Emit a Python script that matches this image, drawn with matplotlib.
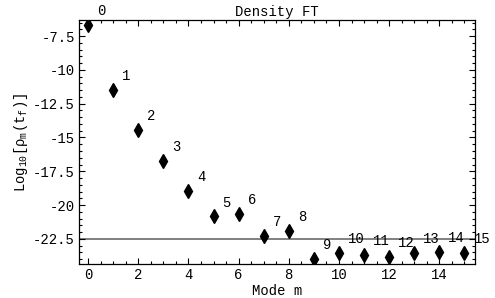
import matplotlib
matplotlib.use("Agg")
import matplotlib.pyplot as plt
from matplotlib.ticker import MultipleLocator, FuncFormatter

modes = list(range(16))
log_rho = [-6.68, -11.49, -14.43, -16.76, -18.93, -20.84, -20.66, -22.27,
           -21.90, -24.00, -23.54, -23.66, -23.83, -23.56, -23.46, -23.54]
threshold = -22.5

plt.rcParams["font.family"] = ["Liberation Mono", "DejaVu Sans Mono"]
plt.rcParams["mathtext.fontset"] = "custom"
plt.rcParams["mathtext.rm"] = "Liberation Mono"
plt.rcParams["mathtext.it"] = "Liberation Mono"

fig = plt.figure(figsize=(4.95, 2.98), dpi=100)
ax = fig.add_axes([79 / 495, 34 / 298, 396 / 495, 244 / 298])

ax.axhline(threshold, color="#808080", linewidth=1.4, zorder=1)
ax.plot(modes, log_rho, linestyle="none", marker="d", color="black",
        markersize=7, zorder=3)

for m, v in zip(modes, log_rho):
    ax.annotate(str(m), (m, v), xytext=(6.5, 10), textcoords="offset points",
                ha="left", va="center", fontsize=10)

ax.set_xlim(-0.36, 15.42)
ax.set_ylim(-24.36, -6.31)
ax.xaxis.set_major_locator(MultipleLocator(2))
ax.xaxis.set_minor_locator(MultipleLocator(0.5))
ax.yaxis.set_major_locator(MultipleLocator(2.5))
ax.yaxis.set_minor_locator(MultipleLocator(0.5))
ax.yaxis.set_major_formatter(FuncFormatter(lambda v, p: f"{v:g}"))
ax.tick_params(which="both", direction="in", top=True, right=True,
               labelsize=10, width=0.8, pad=3)
ax.tick_params(which="major", length=4.5)
ax.tick_params(which="minor", length=2.5)
for s in ax.spines.values():
    s.set_linewidth(0.9)

ax.set_title("Density FT", fontsize=10, pad=3)
ax.set_xlabel("Mode m", fontsize=10, labelpad=1)
ax.set_ylabel(r"Log$_{10}$[$\rho_{m}$(t$_{f}$)]", fontsize=10, labelpad=2)

fig.savefig("out.png", dpi=100)
